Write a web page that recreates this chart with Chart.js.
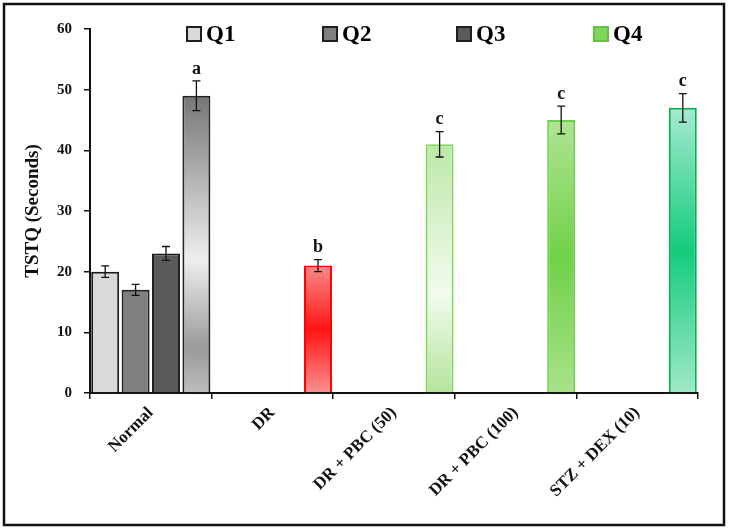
<!DOCTYPE html>
<html>
<head>
<meta charset="utf-8">
<script src="https://cdn.jsdelivr.net/npm/chart.js@4.4.1/dist/chart.umd.min.js"></script>
<style>
  html, body { margin: 0; padding: 0; background: #fff; }
  #wrap { width: 731px; height: 532px; }
</style>
</head>
<body>
<div id="wrap"><canvas id="tstq"></canvas></div>
<script>
// groups on the x axis
var categories = ['Normal', 'DR', 'DR + PBC (50)', 'DR + PBC (100)', 'STZ + DEX (10)'];
// TSTQ (seconds), one list per legend entry
var q1Values = [20, null, null, null, null];
var q2Values = [17, null, null, null, null];
var q3Values = [23, null, null, null, null];
var q4Values = [49, 21, 41, 45, 47];
// error bars (+/-)
var q1Errors = [0.95, null, null, null, null];
var q2Errors = [0.9, null, null, null, null];
var q3Errors = [1.15, null, null, null, null];
var q4Errors = [2.45, 1.0, 2.1, 2.3, 2.35];
// significance letters above the Q4 bars
var q4Letters = ['a', 'b', 'c', 'c', 'c'];
var yTicks = [0, 10, 20, 30, 40, 50, 60];

var serif = "'Liberation Serif', 'Times New Roman', serif";

// gradient stops for the Q4 bars, by category
var q4Stops = [
    [[0, '#767676'], [0.55, '#eeeeee'], [0.85, '#9a9a9a'], [1, '#bdbdbd']],
    [[0, '#f98a8a'], [0.5, '#ff1414'], [1, '#f99090']],
    [[0, '#bde8a8'], [0.6, '#f2fbee'], [1, '#b5e49b']],
    [[0, '#b0e494'], [0.5, '#70d148'], [1, '#a8e28a']],
    [[0, '#a6ead0'], [0.5, '#14cc7c'], [1, '#a0e8c8']]
];
var q4Solid = ['#bdbdbd', '#ff5555', '#d4f0c4', '#90da6e', '#6fdcae'];
var q4Borders = ['#222222', '#ff0000', '#80d85e', '#70d050', '#00b050'];

function q4Fill(ctx) {
    if (ctx.type !== 'data') return '#7fd65a';
    var chart = ctx.chart;
    var i = ctx.dataIndex;
    var v = q4Values[i];
    if (!chart.chartArea || v == null) return q4Solid[i];
    var y = chart.scales.y;
    var top = y.getPixelForValue(v);
    var bot = y.getPixelForValue(0);
    var g = chart.ctx.createLinearGradient(0, top, 0, bot);
    q4Stops[i].forEach(function (s) { g.addColorStop(s[0], s[1]); });
    return g;
}

function q4Border(ctx) {
    if (ctx.type !== 'data') return '#62c044';
    return q4Borders[ctx.dataIndex];
}

var errorLists = [q1Errors, q2Errors, q3Errors, q4Errors];
var valueLists = [q1Values, q2Values, q3Values, q4Values];

var errorBars = {
    id: 'errorBars',
    afterDatasetsDraw: function (chart) {
        var c = chart.ctx;
        var y = chart.scales.y;
        c.save();
        c.strokeStyle = '#111';
        c.lineWidth = 1.3;
        valueLists.forEach(function (vals, d) {
            var meta = chart.getDatasetMeta(d);
            meta.data.forEach(function (bar, i) {
                var v = vals[i], e = errorLists[d][i];
                if (v == null || e == null) return;
                var yt = y.getPixelForValue(v + e);
                var yb = y.getPixelForValue(v - e);
                c.beginPath();
                c.moveTo(bar.x, yt); c.lineTo(bar.x, yb);
                c.moveTo(bar.x - 4, yt); c.lineTo(bar.x + 4, yt);
                c.moveTo(bar.x - 4, yb); c.lineTo(bar.x + 4, yb);
                c.stroke();
                if (d === 3 && q4Letters[i]) {
                    c.fillStyle = '#111';
                    c.font = 'bold 18px ' + serif;
                    c.textAlign = 'center';
                    c.textBaseline = 'bottom';
                    c.fillText(q4Letters[i], bar.x, yt - 3);
                }
            });
        });
        c.restore();
    }
};

// legend strip at the top, level with the "60" tick
var legendX = [187, 323, 457, 594];
var legendBox = ['#d9d9d9', '#7f7f7f', '#5a5a5a', '#7fd65a'];
var legendEdge = ['#1e1e1e', '#1e1e1e', '#1e1e1e', '#62c044'];

var topLegend = {
    id: 'topLegend',
    afterDraw: function (chart) {
        var c = chart.ctx;
        c.save();
        chart.data.datasets.forEach(function (ds, i) {
            var x = legendX[i], yc = 34;
            c.fillStyle = legendBox[i];
            c.fillRect(x, yc - 7, 14, 14);
            c.strokeStyle = legendEdge[i];
            c.lineWidth = 2;
            c.strokeRect(x, yc - 7, 14, 14);
            c.fillStyle = '#000';
            c.font = 'bold 23px ' + serif;
            c.textAlign = 'left';
            c.textBaseline = 'middle';
            c.fillText(ds.label, x + 19, yc + 1);
        });
        c.restore();
    }
};

var frame = {
    id: 'frame',
    afterDraw: function (chart) {
        var c = chart.ctx;
        c.save();
        c.strokeStyle = '#111';
        c.lineWidth = 2.5;
        c.strokeRect(4, 4, 720, 521);
        c.restore();
    }
};

var grayBorder = '#1e1e1e';

new Chart(document.getElementById('tstq'), {
    type: 'bar',
    data: {
        labels: categories,
        datasets: [
            { label: 'Q1', data: q1Values, backgroundColor: '#d9d9d9', borderColor: grayBorder, borderWidth: 2 },
            { label: 'Q2', data: q2Values, backgroundColor: '#7f7f7f', borderColor: grayBorder, borderWidth: 2 },
            { label: 'Q3', data: q3Values, backgroundColor: '#5a5a5a', borderColor: grayBorder, borderWidth: 2 },
            { label: 'Q4', data: q4Values, backgroundColor: q4Fill, borderColor: q4Border, borderWidth: 2 }
        ]
    },
    options: {
        responsive: true,
        maintainAspectRatio: false,
        animation: false,
        events: [],
        layout: { padding: { left: 8, right: 33, top: 29, bottom: 8 } },
        datasets: { bar: { categoryPercentage: 1.0, barPercentage: 0.92 } },
        plugins: {
            tooltip: { enabled: false },
            legend: { display: false }
        },
        scales: {
            x: {
                offset: true,
                afterFit: function (s) { s.height = 131; },
                grid: { display: true, drawOnChartArea: false, offset: true, tickLength: 6, color: '#111', lineWidth: 1.5 },
                border: { display: true, color: '#111', width: 2 },
                ticks: {
                    autoSkip: false,
                    maxRotation: 45,
                    minRotation: 45,
                    padding: 4,
                    color: '#111',
                    font: { family: serif, size: 17, weight: 'bold' }
                }
            },
            y: {
                min: yTicks[0],
                max: yTicks[yTicks.length - 1],
                afterFit: function (s) { s.width = 82; },
                afterBuildTicks: function (s) { s.ticks = yTicks.map(function (v) { return { value: v }; }); },
                grid: { display: true, drawOnChartArea: false, tickLength: 6, color: '#111', lineWidth: 1.5 },
                border: { display: true, color: '#111', width: 2 },
                ticks: {
                    padding: 12,
                    color: '#111',
                    font: { family: serif, size: 15, weight: 'bold' }
                },
                title: {
                    display: true,
                    text: 'TSTQ (Seconds)',
                    color: '#111',
                    padding: { top: 14, bottom: 0 },
                    font: { family: serif, size: 19, weight: 'bold' }
                }
            }
        }
    },
    plugins: [errorBars, topLegend, frame]
});
</script>
</body>
</html>
